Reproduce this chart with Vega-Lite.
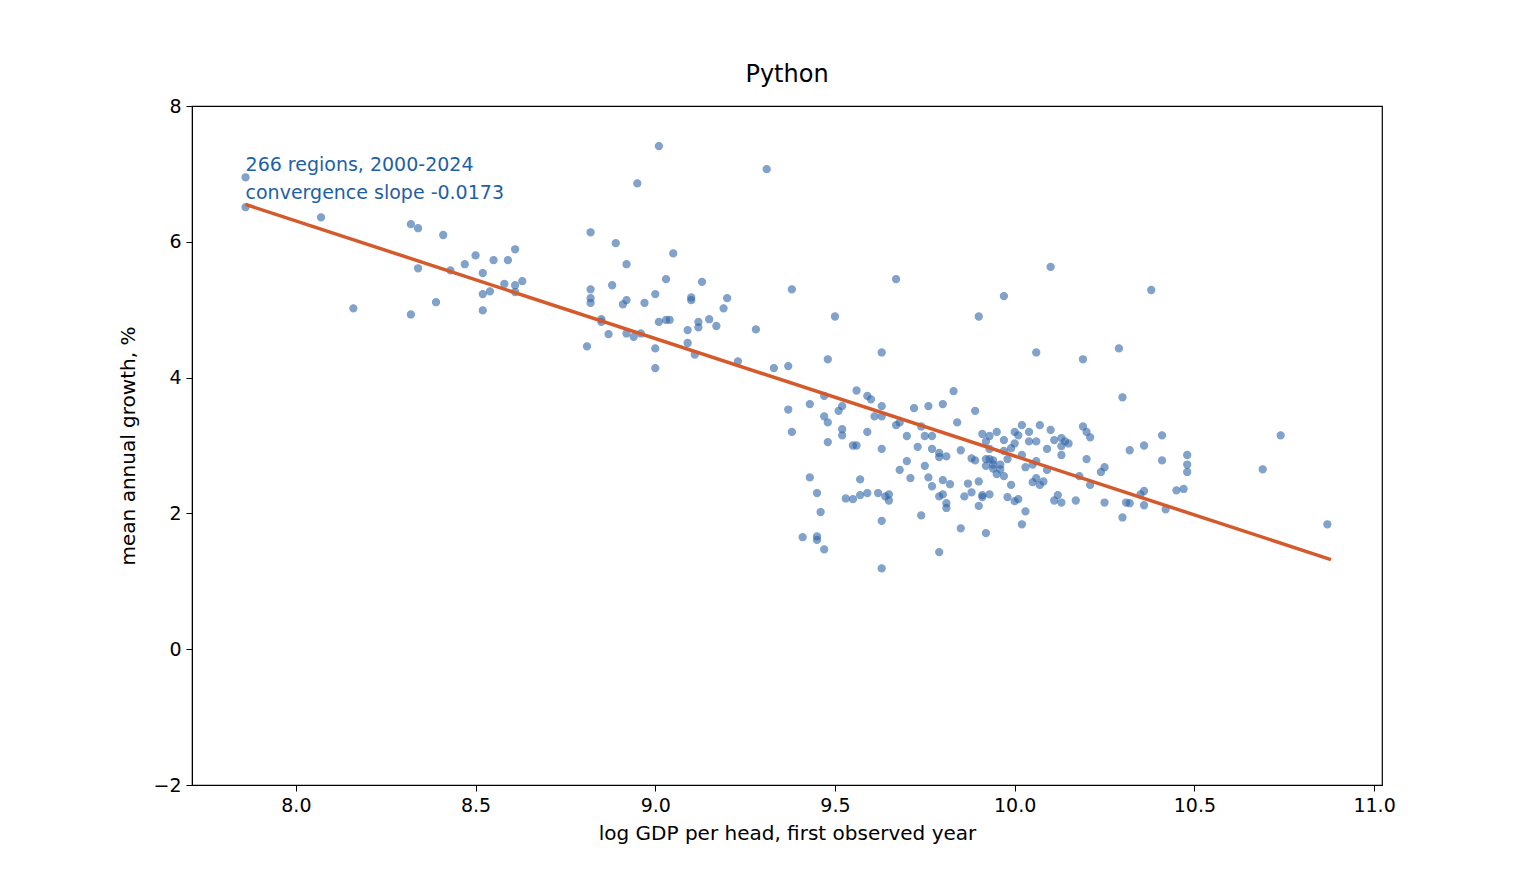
{
"$schema":"https://vega.github.io/schema/vega-lite/v6.json",
"width":1190,"height":679,"autosize":"none",
"padding":{"left":192,"top":106,"right":154,"bottom":98},
"background":"white",
"title":{"text":"Python","font":"DejaVu Sans","fontSize":24,"fontWeight":"normal","offset":10,"color":"black"},
"config":{"view":{"stroke":"black","strokeWidth":1.2},"axis":{"grid":false,"labelFont":"DejaVu Sans","titleFont":"DejaVu Sans","labelFontSize":19,"titleFontSize":20,"titleFontWeight":"normal","labelColor":"black","titleColor":"black","tickColor":"black","domainColor":"black","tickSize":6,"labelPadding":5}},
"datasets":{"pts":[
[7.86,6.95],[7.86,6.51],[8.07,6.36],[8.16,5.02],[8.32,6.26],[8.34,6.2],[8.32,4.93],[8.34,5.61],[8.41,6.1],[8.39,5.11],[8.43,5.58],[8.47,5.67],[8.5,5.8],[8.52,5.54],[8.52,5.23],[8.52,4.99],[8.54,5.27],[8.55,5.73],[8.58,5.38],[8.59,5.73],[8.61,5.89],[8.61,5.36],[8.61,5.26],[8.63,5.42],[8.81,4.46],[8.82,6.14],[8.82,5.3],[8.82,5.17],[8.82,5.1],[8.85,4.86],[8.85,4.82],[8.87,4.64],[8.88,5.36],[8.89,5.98],[8.91,5.08],[8.92,5.14],[8.92,5.67],[8.92,4.65],[8.94,4.6],[8.95,6.86],[8.96,4.65],[8.97,5.1],[9.0,5.23],[9.0,4.43],[9.0,4.14],[9.01,7.41],[9.01,4.82],[9.03,4.85],[9.04,4.85],[9.03,5.45],[9.05,5.83],[9.09,4.51],[9.09,4.7],[9.1,5.18],[9.1,5.14],[9.11,4.34],[9.12,4.74],[9.12,4.82],[9.13,5.41],[9.15,4.86],[9.17,4.76],[9.19,5.02],[9.2,5.17],[9.23,4.24],[9.28,4.71],[9.31,7.07],[9.33,4.14],[9.37,4.17],[9.37,3.53],[9.38,5.3],[9.38,3.2],[9.41,1.65],[9.43,2.53],[9.43,3.61],[9.45,2.3],[9.45,1.66],[9.45,1.61],[9.46,2.02],[9.47,3.73],[9.47,3.43],[9.48,3.34],[9.47,1.47],[9.48,3.05],[9.48,4.27],[9.5,4.9],[9.51,3.51],[9.52,3.58],[9.52,3.24],[9.52,3.15],[9.53,2.22],[9.55,2.21],[9.55,3.0],[9.56,3.81],[9.56,3.0],[9.57,2.5],[9.57,2.27],[9.59,3.73],[9.59,3.2],[9.59,2.3],[9.6,3.68],[9.61,3.43],[9.62,2.3],[9.63,4.37],[9.63,3.43],[9.63,3.58],[9.63,1.89],[9.63,2.95],[9.63,1.19],[9.64,2.25],[9.65,2.19],[9.65,2.28],[9.67,5.45],[9.67,3.3],[9.68,3.34],[9.68,2.64],[9.7,3.14],[9.7,2.77],[9.71,2.52],[9.72,3.55],[9.73,2.98],[9.74,3.28],[9.74,1.97],[9.75,3.14],[9.75,2.7],[9.76,3.58],[9.76,2.53],[9.77,2.95],[9.77,3.14],[9.77,2.4],[9.79,2.89],[9.79,2.83],[9.79,2.25],[9.79,1.43],[9.8,3.61],[9.8,2.49],[9.8,2.28],[9.81,2.15],[9.81,2.08],[9.81,2.84],[9.83,3.8],[9.82,2.43],[9.84,3.34],[9.85,1.78],[9.85,2.93],[9.86,2.25],[9.87,2.44],[9.88,2.81],[9.88,2.31],[9.89,3.51],[9.89,2.78],[9.9,4.9],[9.9,2.47],[9.91,3.17],[9.9,2.11],[9.91,2.27],[9.91,2.24],[9.92,2.8],[9.92,2.7],[9.92,3.06],[9.92,1.71],[9.93,2.28],[9.93,3.14],[9.93,2.8],[9.93,2.95],[9.94,2.78],[9.94,2.72],[9.94,2.66],[9.95,3.2],[9.95,2.58],[9.96,2.72],[9.96,2.65],[9.97,2.92],[9.97,3.08],[9.97,5.2],[9.97,2.55],[9.98,2.24],[9.98,2.8],[9.99,2.96],[9.99,2.42],[10.0,3.2],[10.0,3.03],[10.0,2.18],[10.01,2.21],[10.01,3.15],[10.02,3.3],[10.02,2.86],[10.02,1.84],[10.03,2.68],[10.03,2.03],[10.04,3.06],[10.04,3.2],[10.05,2.46],[10.05,2.72],[10.06,4.37],[10.06,3.06],[10.06,2.77],[10.06,2.52],[10.07,3.3],[10.07,2.42],[10.08,2.47],[10.09,2.95],[10.09,2.64],[10.1,5.63],[10.1,3.23],[10.11,2.19],[10.11,3.08],[10.12,2.27],[10.13,2.99],[10.13,2.16],[10.13,2.86],[10.13,3.11],[10.14,3.06],[10.15,3.03],[10.17,2.19],[10.18,2.55],[10.19,4.27],[10.19,3.28],[10.2,3.2],[10.2,2.8],[10.21,3.12],[10.21,2.42],[10.24,2.61],[10.25,2.68],[10.25,2.16],[10.29,4.43],[10.3,3.71],[10.3,1.94],[10.31,2.16],[10.32,2.93],[10.32,2.15],[10.35,2.28],[10.36,3.0],[10.36,2.12],[10.36,2.33],[10.38,5.29],[10.41,2.78],[10.41,3.15],[10.42,2.06],[10.45,2.34],[10.47,2.36],[10.48,2.86],[10.48,2.72],[10.48,2.61],[10.69,2.65],[10.74,3.15],[10.87,1.84]
],
"fit":[{"x":7.86,"y":6.55},{"x":10.88,"y":1.32}]},
"layer":[
{"data":{"name":"pts"},"transform":[{"calculate":"datum[0]","as":"x"},{"calculate":"datum[1]","as":"y"}],
 "mark":{"type":"circle","size":50,"color":"#2f65a7","opacity":0.6,"stroke":"#2f65a7","strokeWidth":1.2},
 "encoding":{"x":{"field":"x","type":"quantitative","scale":{"domain":[7.711,11.022],"nice":false,"zero":false},"axis":{"values":[8,8.5,9,9.5,10,10.5,11],"format":".1f","title":"log GDP per head, first observed year","titlePadding":8}},
 "y":{"field":"y","type":"quantitative","scale":{"domain":[-2,8],"nice":false,"zero":false},"axis":{"values":[-2,0,2,4,6,8],"format":"d","title":"mean annual growth, %","titlePadding":14}}}},
{"data":{"name":"fit"},"mark":{"type":"line","color":"#d45a2c","strokeWidth":3.5},"encoding":{"x":{"field":"x","type":"quantitative"},"y":{"field":"y","type":"quantitative"}}},
{"data":{"values":[{"x":7.86,"y":7.13,"t":"266 regions, 2000-2024"},{"x":7.86,"y":6.72,"t":"convergence slope -0.0173"}]},
 "mark":{"type":"text","align":"left","baseline":"middle","font":"DejaVu Sans","fontSize":19,"color":"#1f5fa6"},
 "encoding":{"x":{"field":"x","type":"quantitative"},"y":{"field":"y","type":"quantitative"},"text":{"field":"t"}}}
]}
